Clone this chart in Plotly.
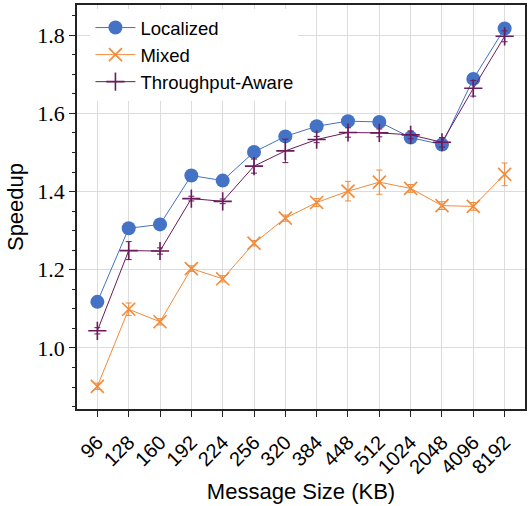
import plotly.graph_objects as go

sizes = ["96", "128", "160", "192", "224", "256", "320", "384", "448", "512", "1024", "2048", "4096", "8192"]

localized = [1.118, 1.306, 1.316, 1.441, 1.428, 1.501, 1.541, 1.567, 1.580, 1.578, 1.538, 1.520, 1.688, 1.817]
localized_err = [0.004, 0.006, 0.005, 0.005, 0.005, 0.010, 0.006, 0.005, 0.005, 0.005, 0.006, 0.006, 0.006, 0.005]

mixed = [0.902, 1.099, 1.067, 1.203, 1.177, 1.268, 1.332, 1.372, 1.401, 1.424, 1.408, 1.364, 1.362, 1.444]
mixed_err = [0.008, 0.016, 0.008, 0.007, 0.008, 0.007, 0.008, 0.010, 0.025, 0.031, 0.010, 0.010, 0.010, 0.029]

throughput = [1.044, 1.249, 1.248, 1.382, 1.375, 1.465, 1.504, 1.533, 1.551, 1.550, 1.545, 1.526, 1.664, 1.797]
throughput_err = [0.008, 0.023, 0.008, 0.006, 0.006, 0.018, 0.030, 0.008, 0.012, 0.010, 0.010, 0.012, 0.020, 0.014]

C_LOC = "#4472c4"
C_MIX = "#f28a3a"
C_THR = "#6a1b5c"

fig = go.Figure()
fig.add_trace(go.Scatter(
    x=sizes, y=localized, name="Localized", mode="lines+markers",
    line=dict(color=C_LOC, width=1),
    marker=dict(symbol="circle", size=14, color=C_LOC),
    error_y=dict(type="data", array=localized_err, color=C_LOC, thickness=1, width=3),
))
fig.add_trace(go.Scatter(
    x=sizes, y=mixed, name="Mixed", mode="lines+markers",
    line=dict(color=C_MIX, width=1),
    marker=dict(symbol="x-thin-open", size=13, color=C_MIX, line=dict(color=C_MIX, width=1.6)),
    error_y=dict(type="data", array=mixed_err, color=C_MIX, thickness=1, width=3),
))
fig.add_trace(go.Scatter(
    x=sizes, y=throughput, name="Throughput-Aware", mode="lines+markers",
    line=dict(color=C_THR, width=1),
    marker=dict(symbol="cross-thin-open", size=13, color=C_THR, line=dict(color=C_THR, width=1.6)),
    error_y=dict(type="data", array=throughput_err, color=C_THR, thickness=1, width=3),
))

fig.update_layout(
    width=529, height=506,
    margin=dict(l=77, r=2, t=5, b=97),
    paper_bgcolor="white", plot_bgcolor="white",
    font=dict(family="Liberation Sans, Arial, sans-serif", color="black"),
    showlegend=True,
    legend=dict(
        x=0.03, y=0.99, xanchor="left", yanchor="top",
        bgcolor="white", borderwidth=0,
        font=dict(size=18.5, family="Liberation Sans, Arial, sans-serif"),
        itemwidth=40,
    ),
)
fig.update_xaxes(
    type="category", range=[-0.65, 13.65],
    showgrid=True, gridcolor="#dcdcdc", gridwidth=1,
    showline=True, linecolor="#222222", linewidth=1.5, mirror=True,
    ticks="outside", ticklen=6, tickwidth=1, tickcolor="#222222",
    tickangle=-45, tickfont=dict(size=20), ticklabelstandoff=6,
    title=dict(text="Message Size (KB)", font=dict(size=22), standoff=6),
    zeroline=False,
)
fig.update_yaxes(
    range=[0.844, 1.877],
    tick0=1.0, dtick=0.2, tickformat=".1f",
    showgrid=True, gridcolor="#dcdcdc", gridwidth=1,
    showline=True, linecolor="#222222", linewidth=1.5, mirror=True,
    ticks="outside", ticklen=6, tickwidth=1, tickcolor="#222222",
    tickfont=dict(size=22, family="Liberation Serif, Times New Roman, serif"),
    minor=dict(tick0=1.0, dtick=0.05, ticks="outside", ticklen=3, tickwidth=1, tickcolor="#222222", showgrid=False),
    title=dict(text="Speedup", font=dict(size=22), standoff=8),
    zeroline=False,
)

fig.write_html("out.html")
